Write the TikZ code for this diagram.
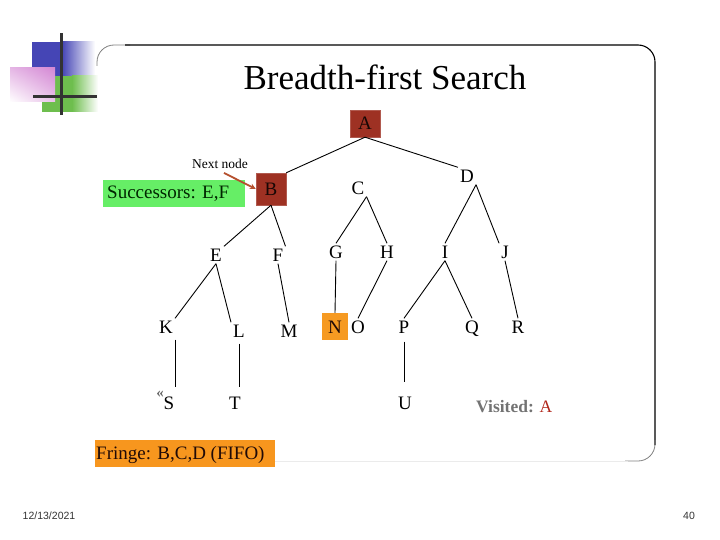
\documentclass[tikz,border=0pt]{standalone}
\usepackage{fontspec}
\setmainfont{Liberation Serif}
\newfontfamily\footfont{Liberation Sans}
\usetikzlibrary{arrows.meta,shadings}
\definecolor{boxred}{HTML}{9E3123}
\definecolor{boxorange}{HTML}{F69A22}
\definecolor{fringeorange}{HTML}{F7961E}
\definecolor{succgreen}{HTML}{66EE66}
\definecolor{arrowbrown}{HTML}{B5502E}
\definecolor{logoblue}{HTML}{4545B5}
\definecolor{logogreen}{HTML}{6EBE4E}
\definecolor{logopink}{HTML}{D488D4}
\tikzset{
  letter/.style={inner sep=2pt, text height=13pt, text depth=0pt, font=\fontsize{19}{22}\selectfont, text=black},
  redbox/.style={fill=boxred, draw=boxred!80!white, minimum width=30pt, text=black!85!boxred},
  treeline/.style={line width=0.9pt, black},
}
\begin{document}
\begin{tikzpicture}[x=1pt,y=-1pt]
\useasboundingbox (0,0) rectangle (720,540);
% logo
\fill[logoblue] (32,42) rectangle (62,76);
\shade[left color=logoblue, right color=white] (62,42) rectangle (95,76);
\fill[logogreen] (42,76) rectangle (72,112);
\shade[left color=logogreen, right color=white] (72,76) rectangle (98,112);
\shade[upper right=logopink, upper left=logopink!60!white, lower right=logopink!50!white, lower left=white] (10,68) rectangle (55,102);
\fill[black!80] (59.5,33) rectangle (62.5,115);
\fill[black!80] (33,95.5) rectangle (97,98.5);
% frame
\draw[gray, line width=0.8pt, rounded corners=17pt] (97,66) -- (97,45) -- (130,45);
\draw[black, line width=1.1pt, rounded corners=17pt] (125,45) -- (655,45) -- (655,445);
\draw[gray, line width=0.8pt, rounded corners=17pt] (655,440) -- (655,461) -- (625,461);
\draw[black!8, line width=0.8pt] (628,461) -- (97,461);
% title
\node (title) at (385,77) {\fontsize{35}{40}\selectfont Breadth-first Search};
% boxes
\node[letter, redbox, minimum height=27pt] (A) at (365,123.5) {A};
\node[letter, redbox, minimum height=32pt] (B) at (271,189) {B};
\node[letter, fill=boxorange, minimum width=26pt, minimum height=27pt, text=black!80!boxred] (N) at (335,326.5) {N};
% letters
\node[letter] (C) at (358,188) {C};
\node[letter] (D) at (467,176) {D};
\node[letter] (E) at (216,255) {E};
\node[letter] (F) at (278,255) {F};
\node[letter] (G) at (336,252) {G};
\node[letter] (H) at (387,252) {H};
\node[letter] (I) at (445,252) {I};
\node[letter] (J) at (505,252) {J};
\node[letter] (K) at (166,327) {K};
\node[letter] (L) at (239,331) {L};
\node[letter] (M) at (289,331) {M};
\node[letter] (O) at (358,327) {O};
\node[letter] (P) at (404,327) {P};
\node[letter] (Q) at (472,327) {Q};
\node[letter] (R) at (518,327) {R};
\node[letter] (S) at (169,403) {S};
\node[letter] (T) at (235,403) {T};
\node[letter] (U) at (405,403) {U};
\node[text=black!60, font=\fontsize{15}{15}\selectfont\bfseries, inner sep=0pt] (mark) at (160,394) {«};
% edges
\draw[treeline] (A.south) -- (B.north east);
\draw[treeline] (A.south) -- (D.north west);
\draw[treeline] (B.south) -- (E.north east);
\draw[treeline] (B.south) -- (F.north east);
\draw[treeline] (C.south east) -- (G.north);
\draw[treeline] (C.south east) -- (H.north);
\draw[treeline] (D.south east) -- (I.north);
\draw[treeline] (D.south east) -- (J.north west);
\draw[treeline] (E.south) -- (K.north east);
\draw[treeline] (E.south) -- (L.north west);
\draw[treeline] (F.south) -- (M.north);
\draw[treeline] (G.south) -- (N.north);
\draw[treeline] (H.south) -- (O.north);
\draw[treeline] (I.south) -- (P.north);
\draw[treeline] (I.south) -- (Q.north);
\draw[treeline] (J.south) -- (R.north);
\draw[treeline, shorten <=4pt, shorten >=7.5pt] (K.south east) -- (K.south east |- S.north);
\draw[treeline, shorten <=4pt, shorten >=7.5pt] (L.south) -- (L.south |- T.north);
\draw[treeline, shorten <=6pt, shorten >=12pt] (P.south) -- (P.south |- U.north);
% annotations
\node[fill=succgreen, minimum width=142pt, minimum height=27pt, inner sep=0pt, anchor=north west, text=black!85!green] (succ) at (103,180) {};
\node[anchor=west, inner sep=0pt, font=\fontsize{19}{22}\selectfont, text=black!85!green] (succtext) at (107,194) {Successors: E,F};
\node[font=\fontsize{13.5}{15}\selectfont, inner sep=1pt] (next) at (220,164) {Next node};
\draw[arrowbrown, line width=1.8pt, -{Stealth[length=6pt,width=6pt]}] (next.south) ++(4,3) -- (B.west);
\node[anchor=west, font=\fontsize{17.5}{20}\selectfont\bfseries, inner sep=0pt] (visited) at (476,407) {\textcolor{black!55}{Visited:} \textcolor{boxred!80!red}{\mdseries A}};
\node[fill=fringeorange, minimum width=180pt, minimum height=27pt, inner sep=0pt, anchor=north west] (fringe) at (95,440) {};
\node[anchor=west, inner sep=0pt, font=\fontsize{19}{22}\selectfont, text=black!80!boxred] (fringetext) at (96,455) {Fringe: B,C,D (FIFO)};
% footer
\node[font=\footfont\fontsize{10.5}{12}\selectfont, text=black!80] (date) at (49,516) {12/13/2021};
\node[font=\footfont\fontsize{10.5}{12}\selectfont, text=black!80] (page) at (689,516) {40};
\end{tikzpicture}
\end{document}
